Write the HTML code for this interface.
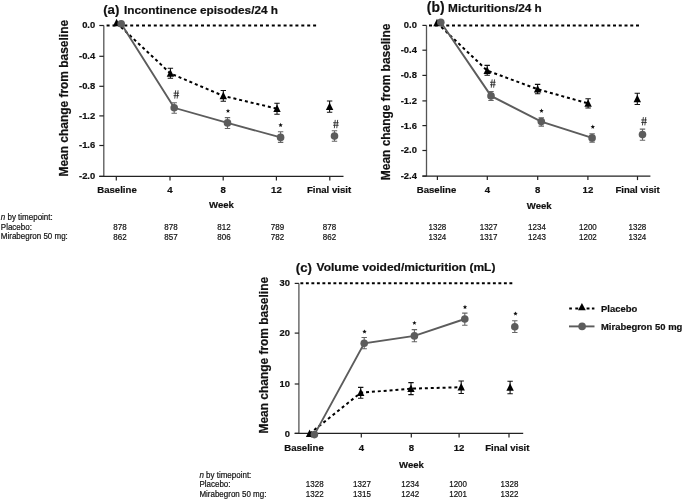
<!DOCTYPE html>
<html><head><meta charset="utf-8"><style>
html,body{margin:0;padding:0;background:#fff;width:685px;height:499px;overflow:hidden;}
svg{display:block;} #wrap{filter:grayscale(1);width:685px;height:499px;}
text{font-family:"Liberation Sans", sans-serif;}
</style></head><body><div id="wrap">
<svg width="685" height="499" viewBox="0 0 685 499">
<rect width="685" height="499" fill="#fff"/>
<line x1="103.8" y1="25.5" x2="103.8" y2="176.4" stroke="#555" stroke-width="1.3"/>
<line x1="99.3" y1="25.5" x2="103.8" y2="25.5" stroke="#222" stroke-width="1.2"/>
<line x1="99.3" y1="56.3" x2="103.8" y2="56.3" stroke="#222" stroke-width="1.2"/>
<line x1="99.3" y1="86.3" x2="103.8" y2="86.3" stroke="#222" stroke-width="1.2"/>
<line x1="99.3" y1="115.9" x2="103.8" y2="115.9" stroke="#222" stroke-width="1.2"/>
<line x1="99.3" y1="145.5" x2="103.8" y2="145.5" stroke="#222" stroke-width="1.2"/>
<line x1="99.3" y1="176.4" x2="103.8" y2="176.4" stroke="#222" stroke-width="1.2"/>
<text x="95.20" y="28.40" font-size="9.4" font-weight="bold" text-anchor="end" fill="#111" stroke="#111" stroke-width="0.2" >0.0</text>
<text x="95.20" y="59.20" font-size="9.4" font-weight="bold" text-anchor="end" fill="#111" stroke="#111" stroke-width="0.2" >-0.4</text>
<text x="95.20" y="89.20" font-size="9.4" font-weight="bold" text-anchor="end" fill="#111" stroke="#111" stroke-width="0.2" >-0.8</text>
<text x="95.20" y="118.80" font-size="9.4" font-weight="bold" text-anchor="end" fill="#111" stroke="#111" stroke-width="0.2" >-1.2</text>
<text x="95.20" y="148.40" font-size="9.4" font-weight="bold" text-anchor="end" fill="#111" stroke="#111" stroke-width="0.2" >-1.6</text>
<text x="95.20" y="179.30" font-size="9.4" font-weight="bold" text-anchor="end" fill="#111" stroke="#111" stroke-width="0.2" >-2.0</text>
<line x1="99.3" y1="176.4" x2="343.5" y2="176.4" stroke="#222" stroke-width="1.3"/>
<line x1="116.3" y1="176.4" x2="116.3" y2="180.4" stroke="#222" stroke-width="1.2"/>
<line x1="170.0" y1="176.4" x2="170.0" y2="180.4" stroke="#222" stroke-width="1.2"/>
<line x1="223.2" y1="176.4" x2="223.2" y2="180.4" stroke="#222" stroke-width="1.2"/>
<line x1="276.4" y1="176.4" x2="276.4" y2="180.4" stroke="#222" stroke-width="1.2"/>
<line x1="329.8" y1="176.4" x2="329.8" y2="180.4" stroke="#222" stroke-width="1.2"/>
<text x="117.00" y="193.40" font-size="9.6" font-weight="bold" text-anchor="middle" fill="#111" stroke="#111" stroke-width="0.2" >Baseline</text>
<text x="170.00" y="193.40" font-size="9.6" font-weight="bold" text-anchor="middle" fill="#111" stroke="#111" stroke-width="0.2" >4</text>
<text x="223.20" y="193.40" font-size="9.6" font-weight="bold" text-anchor="middle" fill="#111" stroke="#111" stroke-width="0.2" >8</text>
<text x="276.40" y="193.40" font-size="9.6" font-weight="bold" text-anchor="middle" fill="#111" stroke="#111" stroke-width="0.2" >12</text>
<text x="329.00" y="193.40" font-size="9.6" font-weight="bold" text-anchor="middle" fill="#111" stroke="#111" stroke-width="0.2" >Final visit</text>
<text x="221.50" y="207.90" font-size="9.6" font-weight="bold" text-anchor="middle" fill="#111" stroke="#111" stroke-width="0.2" >Week</text>
<text transform="translate(67.9,98.2) rotate(-90) scale(1,1.08)" x="0" y="0" font-size="11.95" font-weight="bold" text-anchor="middle" fill="#111" stroke="#111" stroke-width="0.2">Mean change from baseline</text>
<text x="103.20" y="14.20" font-size="13.2" font-weight="bold" text-anchor="start" fill="#111" stroke="#111" stroke-width="0.2" >(a)</text>
<text x="124.00" y="13.60" font-size="11.8" font-weight="bold" text-anchor="start" fill="#111" stroke="#111" stroke-width="0.2" >Incontinence episodes/24 h</text>
<line x1="106.6" y1="25.5" x2="318" y2="25.5" stroke="#000" stroke-width="2" stroke-dasharray="3 2.9"/>
<polyline points="116.6,23.0 170.4,73.4 223.3,95.9 277.0,108.7" fill="none" stroke="#000" stroke-width="2" stroke-dasharray="3 2.9"/>
<polyline points="121.2,23.7 174.2,107.8 227.5,122.9 280.6,137.4" fill="none" stroke="#5c5c5c" stroke-width="1.9"/>
<path d="M170.40 68.30V78.20M167.70 68.30H173.10M167.70 78.20H173.10" stroke="#111" stroke-width="1.1" fill="none"/>
<path d="M223.30 90.50V101.30M220.60 90.50H226.00M220.60 101.30H226.00" stroke="#111" stroke-width="1.1" fill="none"/>
<path d="M277.00 103.30V114.20M274.30 103.30H279.70M274.30 114.20H279.70" stroke="#111" stroke-width="1.1" fill="none"/>
<path d="M329.60 101.00V112.20M326.90 101.00H332.30M326.90 112.20H332.30" stroke="#111" stroke-width="1.1" fill="none"/>
<path d="M174.20 102.80V113.30M171.50 102.80H176.90M171.50 113.30H176.90" stroke="#666" stroke-width="1.1" fill="none"/>
<path d="M227.50 117.60V128.50M224.80 117.60H230.20M224.80 128.50H230.20" stroke="#666" stroke-width="1.1" fill="none"/>
<path d="M280.60 131.70V142.40M277.90 131.70H283.30M277.90 142.40H283.30" stroke="#666" stroke-width="1.1" fill="none"/>
<path d="M334.50 130.70V141.30M331.80 130.70H337.20M331.80 141.30H337.20" stroke="#666" stroke-width="1.1" fill="none"/>
<polygon points="116.60,18.80 120.30,26.30 112.90,26.30" fill="#000"/>
<polygon points="170.40,69.20 174.10,76.70 166.70,76.70" fill="#000"/>
<polygon points="223.30,91.70 227.00,99.20 219.60,99.20" fill="#000"/>
<polygon points="277.00,104.50 280.70,112.00 273.30,112.00" fill="#000"/>
<polygon points="329.60,102.40 333.30,109.90 325.90,109.90" fill="#000"/>
<circle cx="121.2" cy="23.7" r="3.8" fill="#5c5c5c"/>
<circle cx="174.2" cy="107.8" r="3.8" fill="#5c5c5c"/>
<circle cx="227.5" cy="122.9" r="3.8" fill="#5c5c5c"/>
<circle cx="280.6" cy="137.4" r="3.8" fill="#5c5c5c"/>
<circle cx="334.5" cy="136.1" r="3.8" fill="#5c5c5c"/>
<path d="M175.65 90.30L174.75 98.60M178.05 90.30L177.15 98.60M173.50 93.15H179.10M173.50 95.65H179.10" stroke="#222" stroke-width="0.85" fill="none"/>
<polygon points="228.00,108.70 228.61,110.16 230.19,110.29 228.98,111.32 229.35,112.86 228.00,112.03 226.65,112.86 227.02,111.32 225.81,110.29 227.39,110.16" fill="#111"/>
<polygon points="280.60,122.80 281.21,124.26 282.79,124.39 281.58,125.42 281.95,126.96 280.60,126.13 279.25,126.96 279.62,125.42 278.41,124.39 279.99,124.26" fill="#111"/>
<path d="M335.25 119.90L334.35 128.20M337.65 119.90L336.75 128.20M333.10 122.75H338.70M333.10 125.25H338.70" stroke="#222" stroke-width="0.85" fill="none"/>
<line x1="426.5" y1="25.4" x2="426.5" y2="176.1" stroke="#555" stroke-width="1.3"/>
<line x1="422.4" y1="25.4" x2="426.5" y2="25.4" stroke="#222" stroke-width="1.2"/>
<line x1="422.4" y1="50.2" x2="426.5" y2="50.2" stroke="#222" stroke-width="1.2"/>
<line x1="422.4" y1="75.4" x2="426.5" y2="75.4" stroke="#222" stroke-width="1.2"/>
<line x1="422.4" y1="100.9" x2="426.5" y2="100.9" stroke="#222" stroke-width="1.2"/>
<line x1="422.4" y1="125.6" x2="426.5" y2="125.6" stroke="#222" stroke-width="1.2"/>
<line x1="422.4" y1="150.5" x2="426.5" y2="150.5" stroke="#222" stroke-width="1.2"/>
<line x1="422.4" y1="176.1" x2="426.5" y2="176.1" stroke="#222" stroke-width="1.2"/>
<text x="416.90" y="28.30" font-size="9.4" font-weight="bold" text-anchor="end" fill="#111" stroke="#111" stroke-width="0.2" >0.0</text>
<text x="416.90" y="53.10" font-size="9.4" font-weight="bold" text-anchor="end" fill="#111" stroke="#111" stroke-width="0.2" >-0.4</text>
<text x="416.90" y="78.30" font-size="9.4" font-weight="bold" text-anchor="end" fill="#111" stroke="#111" stroke-width="0.2" >-0.8</text>
<text x="416.90" y="103.80" font-size="9.4" font-weight="bold" text-anchor="end" fill="#111" stroke="#111" stroke-width="0.2" >-1.2</text>
<text x="416.90" y="128.50" font-size="9.4" font-weight="bold" text-anchor="end" fill="#111" stroke="#111" stroke-width="0.2" >-1.6</text>
<text x="416.90" y="153.40" font-size="9.4" font-weight="bold" text-anchor="end" fill="#111" stroke="#111" stroke-width="0.2" >-2.0</text>
<text x="416.90" y="179.00" font-size="9.4" font-weight="bold" text-anchor="end" fill="#111" stroke="#111" stroke-width="0.2" >-2.4</text>
<line x1="422.4" y1="176.1" x2="650.4" y2="176.1" stroke="#222" stroke-width="1.3"/>
<line x1="437.4" y1="176.1" x2="437.4" y2="180.1" stroke="#222" stroke-width="1.2"/>
<line x1="487.3" y1="176.1" x2="487.3" y2="180.1" stroke="#222" stroke-width="1.2"/>
<line x1="537.7" y1="176.1" x2="537.7" y2="180.1" stroke="#222" stroke-width="1.2"/>
<line x1="587.9" y1="176.1" x2="587.9" y2="180.1" stroke="#222" stroke-width="1.2"/>
<line x1="637.5" y1="176.1" x2="637.5" y2="180.1" stroke="#222" stroke-width="1.2"/>
<text x="436.50" y="193.40" font-size="9.6" font-weight="bold" text-anchor="middle" fill="#111" stroke="#111" stroke-width="0.2" >Baseline</text>
<text x="487.30" y="193.40" font-size="9.6" font-weight="bold" text-anchor="middle" fill="#111" stroke="#111" stroke-width="0.2" >4</text>
<text x="537.70" y="193.40" font-size="9.6" font-weight="bold" text-anchor="middle" fill="#111" stroke="#111" stroke-width="0.2" >8</text>
<text x="587.90" y="193.40" font-size="9.6" font-weight="bold" text-anchor="middle" fill="#111" stroke="#111" stroke-width="0.2" >12</text>
<text x="637.50" y="193.40" font-size="9.6" font-weight="bold" text-anchor="middle" fill="#111" stroke="#111" stroke-width="0.2" >Final visit</text>
<text x="539.20" y="208.60" font-size="9.6" font-weight="bold" text-anchor="middle" fill="#111" stroke="#111" stroke-width="0.2" >Week</text>
<text transform="translate(390.0,101.9) rotate(-90) scale(1,1.08)" x="0" y="0" font-size="11.95" font-weight="bold" text-anchor="middle" fill="#111" stroke="#111" stroke-width="0.2">Mean change from baseline</text>
<text x="426.80" y="12.30" font-size="13.9" font-weight="bold" text-anchor="start" fill="#111" stroke="#111" stroke-width="0.2" >(b)</text>
<text x="448.10" y="11.60" font-size="11.8" font-weight="bold" text-anchor="start" fill="#111" stroke="#111" stroke-width="0.2" >Micturitions/24 h</text>
<line x1="429" y1="25.6" x2="640" y2="25.6" stroke="#000" stroke-width="2" stroke-dasharray="3 2.75"/>
<polyline points="437.0,23.0 487.2,70.6 537.6,89.2 588.1,103.4" fill="none" stroke="#000" stroke-width="2" stroke-dasharray="3 2.9"/>
<polyline points="440.8,22.2 491.0,95.9 541.3,121.6 592.1,137.9" fill="none" stroke="#5c5c5c" stroke-width="1.9"/>
<path d="M487.20 65.40V75.20M484.50 65.40H489.90M484.50 75.20H489.90" stroke="#111" stroke-width="1.1" fill="none"/>
<path d="M537.60 84.40V93.70M534.90 84.40H540.30M534.90 93.70H540.30" stroke="#111" stroke-width="1.1" fill="none"/>
<path d="M588.10 98.70V108.00M585.40 98.70H590.80M585.40 108.00H590.80" stroke="#111" stroke-width="1.1" fill="none"/>
<path d="M637.30 93.30V104.50M634.60 93.30H640.00M634.60 104.50H640.00" stroke="#111" stroke-width="1.1" fill="none"/>
<path d="M491.00 91.50V100.50M488.30 91.50H493.70M488.30 100.50H493.70" stroke="#666" stroke-width="1.1" fill="none"/>
<path d="M541.30 117.80V126.10M538.60 117.80H544.00M538.60 126.10H544.00" stroke="#666" stroke-width="1.1" fill="none"/>
<path d="M592.10 133.80V142.10M589.40 133.80H594.80M589.40 142.10H594.80" stroke="#666" stroke-width="1.1" fill="none"/>
<path d="M642.50 129.10V140.30M639.80 129.10H645.20M639.80 140.30H645.20" stroke="#666" stroke-width="1.1" fill="none"/>
<polygon points="437.00,18.80 440.70,26.30 433.30,26.30" fill="#000"/>
<polygon points="487.20,66.40 490.90,73.90 483.50,73.90" fill="#000"/>
<polygon points="537.60,85.00 541.30,92.50 533.90,92.50" fill="#000"/>
<polygon points="588.10,99.20 591.80,106.70 584.40,106.70" fill="#000"/>
<polygon points="637.30,94.70 641.00,102.20 633.60,102.20" fill="#000"/>
<circle cx="440.8" cy="22.2" r="3.8" fill="#5c5c5c"/>
<circle cx="491.0" cy="95.9" r="3.8" fill="#5c5c5c"/>
<circle cx="541.3" cy="121.6" r="3.8" fill="#5c5c5c"/>
<circle cx="592.1" cy="137.9" r="3.8" fill="#5c5c5c"/>
<circle cx="642.5" cy="134.6" r="3.8" fill="#5c5c5c"/>
<path d="M492.15 79.40L491.25 87.70M494.55 79.40L493.65 87.70M490.00 82.25H495.60M490.00 84.75H495.60" stroke="#222" stroke-width="0.85" fill="none"/>
<polygon points="541.50,108.60 542.11,110.06 543.69,110.19 542.48,111.22 542.85,112.76 541.50,111.94 540.15,112.76 540.52,111.22 539.31,110.19 540.89,110.06" fill="#111"/>
<polygon points="592.80,124.60 593.41,126.06 594.99,126.19 593.78,127.22 594.15,128.76 592.80,127.94 591.45,128.76 591.82,127.22 590.61,126.19 592.19,126.06" fill="#111"/>
<path d="M643.35 117.10L642.45 125.40M645.75 117.10L644.85 125.40M641.20 119.95H646.80M641.20 122.45H646.80" stroke="#222" stroke-width="0.85" fill="none"/>
<line x1="298.9" y1="283.4" x2="298.9" y2="433.4" stroke="#555" stroke-width="1.3"/>
<line x1="294.7" y1="283.4" x2="298.9" y2="283.4" stroke="#222" stroke-width="1.2"/>
<line x1="294.7" y1="333.1" x2="298.9" y2="333.1" stroke="#222" stroke-width="1.2"/>
<line x1="294.7" y1="384.0" x2="298.9" y2="384.0" stroke="#222" stroke-width="1.2"/>
<line x1="294.7" y1="433.4" x2="298.9" y2="433.4" stroke="#222" stroke-width="1.2"/>
<text x="289.90" y="286.00" font-size="9.4" font-weight="bold" text-anchor="end" fill="#111" stroke="#111" stroke-width="0.2" >30</text>
<text x="289.90" y="336.40" font-size="9.4" font-weight="bold" text-anchor="end" fill="#111" stroke="#111" stroke-width="0.2" >20</text>
<text x="289.90" y="386.60" font-size="9.4" font-weight="bold" text-anchor="end" fill="#111" stroke="#111" stroke-width="0.2" >10</text>
<text x="289.90" y="437.30" font-size="9.4" font-weight="bold" text-anchor="end" fill="#111" stroke="#111" stroke-width="0.2" >0</text>
<line x1="294.7" y1="433.4" x2="523.2" y2="433.4" stroke="#222" stroke-width="1.3"/>
<line x1="311.5" y1="433.4" x2="311.5" y2="437.4" stroke="#222" stroke-width="1.2"/>
<line x1="361.3" y1="433.4" x2="361.3" y2="437.4" stroke="#222" stroke-width="1.2"/>
<line x1="411.3" y1="433.4" x2="411.3" y2="437.4" stroke="#222" stroke-width="1.2"/>
<line x1="459.1" y1="433.4" x2="459.1" y2="437.4" stroke="#222" stroke-width="1.2"/>
<line x1="509.0" y1="433.4" x2="509.0" y2="437.4" stroke="#222" stroke-width="1.2"/>
<text x="304.00" y="450.80" font-size="9.6" font-weight="bold" text-anchor="middle" fill="#111" stroke="#111" stroke-width="0.2" >Baseline</text>
<text x="361.30" y="450.80" font-size="9.6" font-weight="bold" text-anchor="middle" fill="#111" stroke="#111" stroke-width="0.2" >4</text>
<text x="411.30" y="450.80" font-size="9.6" font-weight="bold" text-anchor="middle" fill="#111" stroke="#111" stroke-width="0.2" >8</text>
<text x="459.10" y="450.80" font-size="9.6" font-weight="bold" text-anchor="middle" fill="#111" stroke="#111" stroke-width="0.2" >12</text>
<text x="507.30" y="450.80" font-size="9.6" font-weight="bold" text-anchor="middle" fill="#111" stroke="#111" stroke-width="0.2" >Final visit</text>
<text x="411.50" y="468.00" font-size="9.6" font-weight="bold" text-anchor="middle" fill="#111" stroke="#111" stroke-width="0.2" >Week</text>
<text transform="translate(268.1,355.2) rotate(-90) scale(1,1.08)" x="0" y="0" font-size="11.95" font-weight="bold" text-anchor="middle" fill="#111" stroke="#111" stroke-width="0.2">Mean change from baseline</text>
<text x="295.80" y="271.80" font-size="13.2" font-weight="bold" text-anchor="start" fill="#111" stroke="#111" stroke-width="0.2" >(c)</text>
<text transform="translate(316.60,270.80) scale(1.052,1.0)" font-size="11.4" font-weight="bold" text-anchor="start" fill="#111" stroke="#111" stroke-width="0.2" >Volume voided/micturition (mL)</text>
<line x1="300.4" y1="283.3" x2="512.5" y2="283.3" stroke="#000" stroke-width="2" stroke-dasharray="2.9 2.6"/>
<polyline points="309.6,433.7 360.7,392.8 411.0,388.6 461.2,387.2" fill="none" stroke="#000" stroke-width="2" stroke-dasharray="3 2.9"/>
<polyline points="314.4,434.6 364.2,343.3 414.4,335.9 464.8,319.0" fill="none" stroke="#5c5c5c" stroke-width="1.9"/>
<path d="M360.70 387.40V398.30M358.00 387.40H363.40M358.00 398.30H363.40" stroke="#111" stroke-width="1.1" fill="none"/>
<path d="M411.00 382.60V394.60M408.30 382.60H413.70M408.30 394.60H413.70" stroke="#111" stroke-width="1.1" fill="none"/>
<path d="M461.20 381.00V393.50M458.50 381.00H463.90M458.50 393.50H463.90" stroke="#111" stroke-width="1.1" fill="none"/>
<path d="M510.10 381.20V393.70M507.40 381.20H512.80M507.40 393.70H512.80" stroke="#111" stroke-width="1.1" fill="none"/>
<path d="M364.20 337.50V348.70M361.50 337.50H366.90M361.50 348.70H366.90" stroke="#666" stroke-width="1.1" fill="none"/>
<path d="M414.40 329.60V341.70M411.70 329.60H417.10M411.70 341.70H417.10" stroke="#666" stroke-width="1.1" fill="none"/>
<path d="M464.80 313.10V325.20M462.10 313.10H467.50M462.10 325.20H467.50" stroke="#666" stroke-width="1.1" fill="none"/>
<path d="M514.80 320.80V332.50M512.10 320.80H517.50M512.10 332.50H517.50" stroke="#666" stroke-width="1.1" fill="none"/>
<polygon points="309.60,429.50 313.30,437.00 305.90,437.00" fill="#000"/>
<polygon points="360.70,388.60 364.40,396.10 357.00,396.10" fill="#000"/>
<polygon points="411.00,384.40 414.70,391.90 407.30,391.90" fill="#000"/>
<polygon points="461.20,383.00 464.90,390.50 457.50,390.50" fill="#000"/>
<polygon points="510.10,383.20 513.80,390.70 506.40,390.70" fill="#000"/>
<circle cx="314.4" cy="434.6" r="3.8" fill="#5c5c5c"/>
<circle cx="364.2" cy="343.3" r="3.8" fill="#5c5c5c"/>
<circle cx="414.4" cy="335.9" r="3.8" fill="#5c5c5c"/>
<circle cx="464.8" cy="319.0" r="3.8" fill="#5c5c5c"/>
<circle cx="514.8" cy="326.8" r="3.8" fill="#5c5c5c"/>
<polygon points="364.50,329.40 365.11,330.86 366.69,330.99 365.48,332.02 365.85,333.56 364.50,332.74 363.15,333.56 363.52,332.02 362.31,330.99 363.89,330.86" fill="#111"/>
<polygon points="414.40,320.70 415.01,322.16 416.59,322.29 415.38,323.32 415.75,324.86 414.40,324.04 413.05,324.86 413.42,323.32 412.21,322.29 413.79,322.16" fill="#111"/>
<polygon points="465.00,304.80 465.61,306.26 467.19,306.39 465.98,307.42 466.35,308.96 465.00,308.14 463.65,308.96 464.02,307.42 462.81,306.39 464.39,306.26" fill="#111"/>
<polygon points="515.50,311.40 516.11,312.86 517.69,312.99 516.48,314.02 516.85,315.56 515.50,314.74 514.15,315.56 514.52,314.02 513.31,312.99 514.89,312.86" fill="#111"/>
<path d="M569.2 308.6H571.9M575.3 308.6H578.2M586.6 308.6H589.5M591.9 308.6H594.4" stroke="#000" stroke-width="2"/>
<polygon points="581.90,303.10 585.80,310.30 578.00,310.30" fill="#000"/>
<text x="601.00" y="311.80" font-size="9.45" font-weight="bold" text-anchor="start" fill="#111" stroke="#111" stroke-width="0.2" >Placebo</text>
<line x1="569" y1="326.4" x2="594.5" y2="326.4" stroke="#5c5c5c" stroke-width="1.9"/>
<circle cx="582.1" cy="326.4" r="3.8" fill="#5c5c5c"/>
<text x="601.00" y="329.70" font-size="9.45" font-weight="bold" text-anchor="start" fill="#111" stroke="#111" stroke-width="0.2" >Mirabegron 50 mg</text>
<text transform="translate(0.8,219.8) scale(1,1.08)" font-size="8" fill="#111" stroke="#111" stroke-width="0.18"><tspan font-style="italic">n</tspan> by timepoint:</text>
<text transform="translate(0.80,229.80) scale(1.0,1.08)" font-size="8" font-weight="normal" text-anchor="start" fill="#111" stroke="#111" stroke-width="0.18" >Placebo:</text>
<text transform="translate(0.80,239.40) scale(1.0,1.08)" font-size="8" font-weight="normal" text-anchor="start" fill="#111" stroke="#111" stroke-width="0.18" >Mirabegron 50 mg:</text>
<text transform="translate(120.00,230.20) scale(1.0,1.08)" font-size="8" font-weight="normal" text-anchor="middle" fill="#111" stroke="#111" stroke-width="0.18" >878</text>
<text transform="translate(171.00,230.20) scale(1.0,1.08)" font-size="8" font-weight="normal" text-anchor="middle" fill="#111" stroke="#111" stroke-width="0.18" >878</text>
<text transform="translate(224.00,230.20) scale(1.0,1.08)" font-size="8" font-weight="normal" text-anchor="middle" fill="#111" stroke="#111" stroke-width="0.18" >812</text>
<text transform="translate(277.50,230.20) scale(1.0,1.08)" font-size="8" font-weight="normal" text-anchor="middle" fill="#111" stroke="#111" stroke-width="0.18" >789</text>
<text transform="translate(329.50,230.20) scale(1.0,1.08)" font-size="8" font-weight="normal" text-anchor="middle" fill="#111" stroke="#111" stroke-width="0.18" >878</text>
<text transform="translate(120.00,239.90) scale(1.0,1.08)" font-size="8" font-weight="normal" text-anchor="middle" fill="#111" stroke="#111" stroke-width="0.18" >862</text>
<text transform="translate(171.00,239.90) scale(1.0,1.08)" font-size="8" font-weight="normal" text-anchor="middle" fill="#111" stroke="#111" stroke-width="0.18" >857</text>
<text transform="translate(224.00,239.90) scale(1.0,1.08)" font-size="8" font-weight="normal" text-anchor="middle" fill="#111" stroke="#111" stroke-width="0.18" >806</text>
<text transform="translate(277.50,239.90) scale(1.0,1.08)" font-size="8" font-weight="normal" text-anchor="middle" fill="#111" stroke="#111" stroke-width="0.18" >782</text>
<text transform="translate(329.50,239.90) scale(1.0,1.08)" font-size="8" font-weight="normal" text-anchor="middle" fill="#111" stroke="#111" stroke-width="0.18" >862</text>
<text transform="translate(437.40,230.20) scale(1.0,1.08)" font-size="8" font-weight="normal" text-anchor="middle" fill="#111" stroke="#111" stroke-width="0.18" >1328</text>
<text transform="translate(488.60,230.20) scale(1.0,1.08)" font-size="8" font-weight="normal" text-anchor="middle" fill="#111" stroke="#111" stroke-width="0.18" >1327</text>
<text transform="translate(537.00,230.20) scale(1.0,1.08)" font-size="8" font-weight="normal" text-anchor="middle" fill="#111" stroke="#111" stroke-width="0.18" >1234</text>
<text transform="translate(587.90,230.20) scale(1.0,1.08)" font-size="8" font-weight="normal" text-anchor="middle" fill="#111" stroke="#111" stroke-width="0.18" >1200</text>
<text transform="translate(637.40,230.20) scale(1.0,1.08)" font-size="8" font-weight="normal" text-anchor="middle" fill="#111" stroke="#111" stroke-width="0.18" >1328</text>
<text transform="translate(437.40,239.60) scale(1.0,1.08)" font-size="8" font-weight="normal" text-anchor="middle" fill="#111" stroke="#111" stroke-width="0.18" >1324</text>
<text transform="translate(488.60,239.60) scale(1.0,1.08)" font-size="8" font-weight="normal" text-anchor="middle" fill="#111" stroke="#111" stroke-width="0.18" >1317</text>
<text transform="translate(537.00,239.60) scale(1.0,1.08)" font-size="8" font-weight="normal" text-anchor="middle" fill="#111" stroke="#111" stroke-width="0.18" >1243</text>
<text transform="translate(587.90,239.60) scale(1.0,1.08)" font-size="8" font-weight="normal" text-anchor="middle" fill="#111" stroke="#111" stroke-width="0.18" >1202</text>
<text transform="translate(637.40,239.60) scale(1.0,1.08)" font-size="8" font-weight="normal" text-anchor="middle" fill="#111" stroke="#111" stroke-width="0.18" >1324</text>
<text transform="translate(199.4,477.6) scale(1,1.08)" font-size="8" fill="#111" stroke="#111" stroke-width="0.18"><tspan font-style="italic">n</tspan> by timepoint:</text>
<text transform="translate(199.40,487.00) scale(1.0,1.08)" font-size="8" font-weight="normal" text-anchor="start" fill="#111" stroke="#111" stroke-width="0.18" >Placebo:</text>
<text transform="translate(199.40,496.50) scale(1.0,1.08)" font-size="8" font-weight="normal" text-anchor="start" fill="#111" stroke="#111" stroke-width="0.18" >Mirabegron 50 mg:</text>
<text transform="translate(314.70,487.40) scale(1.0,1.08)" font-size="8" font-weight="normal" text-anchor="middle" fill="#111" stroke="#111" stroke-width="0.18" >1328</text>
<text transform="translate(362.00,487.40) scale(1.0,1.08)" font-size="8" font-weight="normal" text-anchor="middle" fill="#111" stroke="#111" stroke-width="0.18" >1327</text>
<text transform="translate(410.20,487.40) scale(1.0,1.08)" font-size="8" font-weight="normal" text-anchor="middle" fill="#111" stroke="#111" stroke-width="0.18" >1234</text>
<text transform="translate(458.10,487.40) scale(1.0,1.08)" font-size="8" font-weight="normal" text-anchor="middle" fill="#111" stroke="#111" stroke-width="0.18" >1200</text>
<text transform="translate(509.50,487.40) scale(1.0,1.08)" font-size="8" font-weight="normal" text-anchor="middle" fill="#111" stroke="#111" stroke-width="0.18" >1328</text>
<text transform="translate(314.70,496.70) scale(1.0,1.08)" font-size="8" font-weight="normal" text-anchor="middle" fill="#111" stroke="#111" stroke-width="0.18" >1322</text>
<text transform="translate(362.00,496.70) scale(1.0,1.08)" font-size="8" font-weight="normal" text-anchor="middle" fill="#111" stroke="#111" stroke-width="0.18" >1315</text>
<text transform="translate(410.20,496.70) scale(1.0,1.08)" font-size="8" font-weight="normal" text-anchor="middle" fill="#111" stroke="#111" stroke-width="0.18" >1242</text>
<text transform="translate(458.10,496.70) scale(1.0,1.08)" font-size="8" font-weight="normal" text-anchor="middle" fill="#111" stroke="#111" stroke-width="0.18" >1201</text>
<text transform="translate(509.50,496.70) scale(1.0,1.08)" font-size="8" font-weight="normal" text-anchor="middle" fill="#111" stroke="#111" stroke-width="0.18" >1322</text>
</svg></div>
</body></html>
